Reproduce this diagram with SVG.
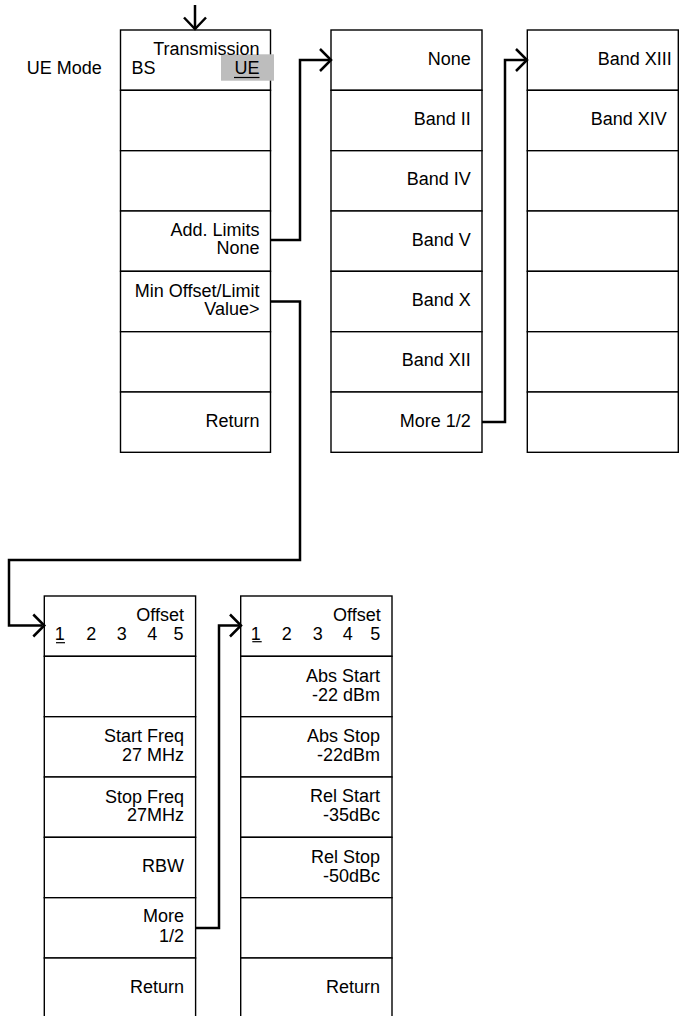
<svg xmlns="http://www.w3.org/2000/svg" width="681" height="1016" viewBox="0 0 681 1016">
<defs>
<style>
.btn{fill:#fff;stroke:#000;stroke-width:1.4}
.t{font-family:"Liberation Sans",Arial,sans-serif;font-size:18px;fill:#000}
.r{text-anchor:end}
.c{fill:none;stroke:#000;stroke-width:2.5;stroke-linejoin:miter;stroke-linecap:butt}
.ul{stroke:#000;stroke-width:1.2}
</style>
</defs>
<rect width="681" height="1016" fill="#fff"/>

<text class="t r" x="101.7" y="74">UE Mode</text>

<g id="menu-ue-mode">
<rect class="btn" x="120.5" y="30" width="150" height="60.3"/>
<rect class="btn" x="120.5" y="90.3" width="150" height="60.4"/>
<rect class="btn" x="120.5" y="150.7" width="150" height="60.3"/>
<rect class="btn" x="120.5" y="211" width="150" height="60.3"/>
<rect class="btn" x="120.5" y="271.3" width="150" height="60.4"/>
<rect class="btn" x="120.5" y="331.7" width="150" height="60.3"/>
<rect class="btn" x="120.5" y="392" width="150" height="60.3"/>
<rect x="221" y="54.3" width="53" height="26.4" fill="#bdbdbd"/>
<text class="t r" x="259.5" y="55">Transmission</text>
<text class="t" x="131.5" y="74">BS</text>
<text class="t r" x="259.5" y="74">UE</text>
<line class="ul" x1="234" y1="77.5" x2="259.5" y2="77.5"/>
<text class="t r" x="259.5" y="236">Add. Limits</text>
<text class="t r" x="259.5" y="254.3">None</text>
<text class="t r" x="259.5" y="296.7">Min Offset/Limit</text>
<text class="t r" x="259.5" y="315.3">Value&gt;</text>
<text class="t r" x="259.5" y="426.7">Return</text>
</g>

<g id="menu-add-limits-1">
<rect class="btn" x="331" y="30" width="151" height="60.3"/>
<rect class="btn" x="331" y="90.3" width="151" height="60.4"/>
<rect class="btn" x="331" y="150.7" width="151" height="60.3"/>
<rect class="btn" x="331" y="211" width="151" height="60.3"/>
<rect class="btn" x="331" y="271.3" width="151" height="60.4"/>
<rect class="btn" x="331" y="331.7" width="151" height="60.3"/>
<rect class="btn" x="331" y="392" width="151" height="60.3"/>
<text class="t r" x="470.7" y="65">None</text>
<text class="t r" x="470.7" y="125">Band II</text>
<text class="t r" x="470.7" y="185">Band IV</text>
<text class="t r" x="470.7" y="245.5">Band V</text>
<text class="t r" x="470.7" y="306">Band X</text>
<text class="t r" x="470.7" y="366">Band XII</text>
<text class="t r" x="470.7" y="426.7">More 1/2</text>
</g>

<g id="menu-add-limits-2">
<rect class="btn" x="527.3" y="30" width="151" height="60.3"/>
<rect class="btn" x="527.3" y="90.3" width="151" height="60.4"/>
<rect class="btn" x="527.3" y="150.7" width="151" height="60.3"/>
<rect class="btn" x="527.3" y="211" width="151" height="60.3"/>
<rect class="btn" x="527.3" y="271.3" width="151" height="60.4"/>
<rect class="btn" x="527.3" y="331.7" width="151" height="60.3"/>
<rect class="btn" x="527.3" y="392" width="151" height="60.3"/>
<text class="t r" x="671.7" y="65">Band XIII</text>
<text class="t r" x="666.7" y="125">Band XIV</text>
</g>

<g id="menu-offset-1">
<rect class="btn" x="44.3" y="596" width="151.3" height="60.3"/>
<rect class="btn" x="44.3" y="656.3" width="151.3" height="60.4"/>
<rect class="btn" x="44.3" y="716.7" width="151.3" height="60.3"/>
<rect class="btn" x="44.3" y="777" width="151.3" height="60.3"/>
<rect class="btn" x="44.3" y="837.3" width="151.3" height="60.4"/>
<rect class="btn" x="44.3" y="897.7" width="151.3" height="60.3"/>
<rect class="btn" x="44.3" y="958" width="151.3" height="62"/>
<text class="t r" x="184" y="621">Offset</text>
<text class="t" x="54.7" y="640">1</text>
<line class="ul" x1="56" y1="642.7" x2="65" y2="642.7"/>
<text class="t" x="86.2" y="640">2</text>
<text class="t" x="116.8" y="640">3</text>
<text class="t" x="147.2" y="640">4</text>
<text class="t" x="173.5" y="640">5</text>
<text class="t r" x="184" y="742.3">Start Freq</text>
<text class="t r" x="184" y="760.6">27 MHz</text>
<text class="t r" x="184" y="802.8">Stop Freq</text>
<text class="t r" x="184" y="821.1">27MHz</text>
<text class="t r" x="184" y="872">RBW</text>
<text class="t r" x="184" y="922">More</text>
<text class="t r" x="184" y="941.7">1/2</text>
<text class="t r" x="184" y="993.3">Return</text>
</g>

<g id="menu-offset-2">
<rect class="btn" x="240.7" y="596" width="151.3" height="60.3"/>
<rect class="btn" x="240.7" y="656.3" width="151.3" height="60.4"/>
<rect class="btn" x="240.7" y="716.7" width="151.3" height="60.3"/>
<rect class="btn" x="240.7" y="777" width="151.3" height="60.3"/>
<rect class="btn" x="240.7" y="837.3" width="151.3" height="60.4"/>
<rect class="btn" x="240.7" y="897.7" width="151.3" height="60.3"/>
<rect class="btn" x="240.7" y="958" width="151.3" height="62"/>
<text class="t r" x="380.7" y="621">Offset</text>
<text class="t" x="250.7" y="640">1</text>
<line class="ul" x1="252.3" y1="641.7" x2="261.7" y2="641.7"/>
<text class="t" x="281.8" y="640">2</text>
<text class="t" x="312.8" y="640">3</text>
<text class="t" x="342.8" y="640">4</text>
<text class="t" x="370.2" y="640">5</text>
<text class="t r" x="380" y="682.3">Abs Start</text>
<text class="t r" x="380" y="700.6">-22 dBm</text>
<text class="t r" x="380" y="742.3">Abs Stop</text>
<text class="t r" x="380" y="760.6">-22dBm</text>
<text class="t r" x="380" y="802.4">Rel Start</text>
<text class="t r" x="380" y="820.9">-35dBc</text>
<text class="t r" x="380" y="862.6">Rel Stop</text>
<text class="t r" x="380" y="881.5">-50dBc</text>
<text class="t r" x="380" y="992.7">Return</text>
</g>

<g id="connectors">
<line class="c" x1="195" y1="5" x2="195" y2="29"/>
<polyline class="c" points="184,17.5 195,29 206,17.5"/>
<polyline class="c" points="270.5,240 300,240 300,60 329,60"/>
<polyline class="c" points="320,49 331,60 320,71"/>
<polyline class="c" points="482,422 505,422 505,60 525.5,60"/>
<polyline class="c" points="516,49 527,60 516,71"/>
<polyline class="c" points="270.5,301.5 300,301.5 300,560 9,560 9,625.5 42.5,625.5"/>
<polyline class="c" points="33.3,614.5 44.3,625.5 33.3,636.5"/>
<polyline class="c" points="195.6,928 219,928 219,625.5 239,625.5"/>
<polyline class="c" points="230,614.5 241,625.5 230,636.5"/>
</g>
</svg>
